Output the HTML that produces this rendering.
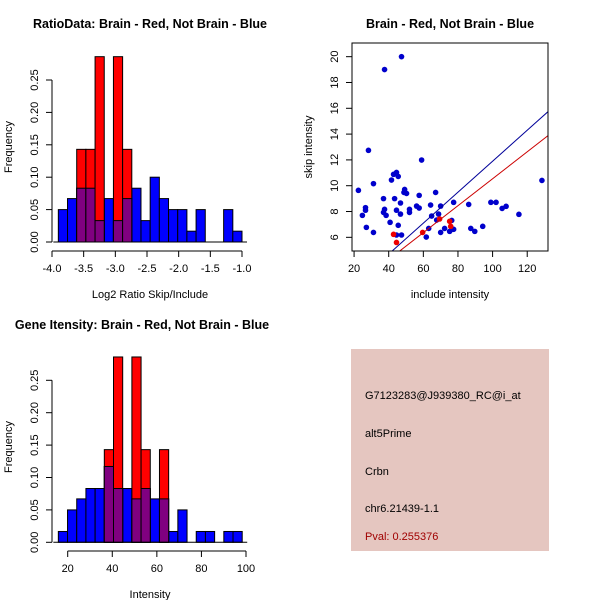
<!DOCTYPE html>
<html><head><meta charset="utf-8"><style>
html,body{margin:0;padding:0;background:#fff;}
svg{display:block;font-family:"Liberation Sans",sans-serif;}
</style></head><body>
<svg id="c" width="600" height="600" xmlns="http://www.w3.org/2000/svg">
<rect width="600" height="600" fill="#fff"/>
<text x="150" y="28" text-anchor="middle" font-size="12.5" font-weight="bold">RatioData: Brain - Red, Not Brain - Blue</text>
<text x="450" y="28" text-anchor="middle" font-size="12.5" font-weight="bold">Brain - Red, Not Brain - Blue</text>
<text x="142" y="329" text-anchor="middle" font-size="12.5" font-weight="bold">Gene Itensity: Brain - Red, Not Brain - Blue</text>
<text x="150" y="298" text-anchor="middle" font-size="11">Log2 Ratio Skip/Include</text>
<text x="12" y="147" text-anchor="middle" font-size="11" transform="rotate(-90 12 147)">Frequency</text>
<text x="150" y="598" text-anchor="middle" font-size="11">Intensity</text>
<text x="12" y="447" text-anchor="middle" font-size="11" transform="rotate(-90 12 447)">Frequency</text>
<text x="450" y="298" text-anchor="middle" font-size="11">include intensity</text>
<text x="312" y="147" text-anchor="middle" font-size="11" transform="rotate(-90 312 147)">skip intensity</text>
<g>
<rect x="351" y="349" width="198" height="202" fill="#E5C6C0"/>
<text x="365" y="399" font-size="11">G7123283@J939380_RC@i_at</text>
<text x="365" y="437" font-size="11">alt5Prime</text>
<text x="365" y="475" font-size="11">Crbn</text>
<text x="365" y="512" font-size="11">chr6.21439-1.1</text>
<text x="365" y="540" font-size="11" fill="#A00000">Pval: 0.255376</text>
</g>
</svg>
<script>
// Ratio histogram data
const ratioStart = -3.9, ratioWidth = 0.145;
const ratioBlue = [0.05,0.067,0.083,0.083,0.033,0.067,0.033,0.067,0.083,0.033,0.1,0.067,0.05,0.05,0.0167,0.05,0,0,0.05,0.0167];
const ratioRed  = [0,0,0.143,0.143,0.286,0,0.286,0.143,0,0,0,0,0,0,0,0,0,0,0,0];
const ratioXTicks = [-4.0,-3.5,-3.0,-2.5,-2.0,-1.5,-1.0];
const freqTicks = [0,0.05,0.10,0.15,0.20,0.25];
const freqTickLabels = ["0.00","0.05","0.10","0.15","0.20","0.25"];
// Intensity histogram data
const intStart = 15.8, intWidth = 4.125;
const intBlue = [0.0167,0.05,0.067,0.083,0.083,0.117,0.083,0.083,0.067,0.083,0.067,0.067,0.0167,0.05,0,0.0167,0.0167,0,0.0167,0.0167];
const intRed  = [0,0,0,0,0,0.143,0.286,0,0.286,0.143,0,0.143,0,0,0,0,0,0,0,0];
const intXTicks = [20,40,60,80,100];
// Scatter data
const blueX = [22.5,24.8,26.6,26.6,27.1,28.3,31.2,31.2,37.0,37.0,37.6,37.6,38.5,40.8,41.6,42.8,43.4,44.5,44.5,44.5,45.5,45.5,46.8,46.8,47.4,47.4,48.8,49.2,50.3,52.0,52.0,56.1,57.6,57.6,59.0,61.7,63.1,64.2,64.8,67.1,67.7,68.8,70.0,70.0,72.3,75.2,76.4,76.4,77.5,77.5,86.2,87.4,89.7,94.3,99.0,102.0,105.5,107.8,115.2,128.5];
const blueY = [9.64,7.7,8.3,8.1,6.77,12.74,10.16,6.38,9.0,7.93,19.0,8.17,7.7,7.16,10.44,10.88,9.0,11.03,8.1,6.18,10.72,6.93,8.66,7.8,20.0,6.18,9.48,9.71,9.4,8.17,7.93,8.42,9.25,8.27,11.99,6.02,6.69,8.5,7.65,9.48,7.34,7.8,6.38,8.42,6.69,6.46,7.31,6.62,8.71,6.62,8.55,6.69,6.46,6.85,8.71,8.71,8.24,8.4,7.78,10.41];
const redX = [42.8,44.5,59.6,69.4,75.2,75.8];
const redY = [6.23,5.6,6.38,7.42,7.24,6.85];
const blueFit = [0.12,-0.1];   // slope, intercept
const redFit = [0.1044,0.1];
const scatterXTicks = [20,40,60,80,100,120];
const scatterYTicks = [6,8,10,12,14,16,18,20];

const svg = document.getElementById('c');
const NS = 'http://www.w3.org/2000/svg';
function mk(tag, attrs, parent){const e=document.createElementNS(NS,tag);for(const k in attrs)e.setAttribute(k,attrs[k]);(parent||svg).appendChild(e);return e;}

function histogram(name, start, width, blue, red, y0px, xAxisY, xTicks, xTickLab, xmin, xmax, pxLeft, pxRight){
  const g = mk('g',{});
  
  
  const sx = v => pxLeft + (v - xmin) / (xmax - xmin) * (pxRight - pxLeft);
  const sy = f => y0px - f / 0.05 * 32.4;
  for (let i=0;i<blue.length;i++){
    const x1=sx(start+i*width), x2=sx(start+(i+1)*width);
    if (blue[i]>0){
      const r=mk('rect',{x:x1,y:sy(blue[i]),width:x2-x1,height:y0px-sy(blue[i]),fill:'#0000FF',stroke:'#000','stroke-width':1},g);
      
      
    }
  }
  for (let i=0;i<red.length;i++){
    const x1=sx(start+i*width), x2=sx(start+(i+1)*width);
    if (red[i]>0){
      const r=mk('rect',{x:x1,y:sy(red[i]),width:x2-x1,height:y0px-sy(red[i]),fill:'#FF0000',stroke:'#000','stroke-width':1},g);
      
      
      const m=Math.min(red[i],blue[i]);
      if (m>0){
        const p=mk('rect',{x:x1,y:sy(m),width:x2-x1,height:y0px-sy(m),fill:'#800080',stroke:'#000','stroke-width':1},g);
        
        
      }
    }
  }
  mk('line',{x1:sx(start)-5,x2:sx(start+blue.length*width)+5,y1:y0px,y2:y0px,stroke:'#000'},g);
  // y axis
  mk('line',{x1:52,x2:52,y1:sy(0),y2:sy(0.25),stroke:'#000'},g);
  freqTicks.forEach((t,i)=>{
    mk('line',{x1:46,x2:52,y1:sy(t),y2:sy(t),stroke:'#000'},g);
    const tx=mk('text',{x:38,y:sy(t),'font-size':11,'text-anchor':'middle',transform:`rotate(-90 38 ${sy(t)})`},g);
    tx.textContent=freqTickLabels[i];
    
    
  });
  // x axis
  mk('line',{x1:sx(xTicks[0]),x2:sx(xTicks[xTicks.length-1]),y1:xAxisY,y2:xAxisY,stroke:'#000'},g);
  xTicks.forEach(t=>{
    mk('line',{x1:sx(t),x2:sx(t),y1:xAxisY,y2:xAxisY+6,stroke:'#000'},g);
    const tx=mk('text',{x:sx(t),y:xAxisY+21,'font-size':11,'text-anchor':'middle'},g);
    tx.textContent=xTickLab(t);
    
    
  });
}
histogram('ratio-histogram', ratioStart, ratioWidth, ratioBlue, ratioRed, 242, 251, ratioXTicks, t=>t.toFixed(1), -4, -1, 52, 242);
histogram('intensity-histogram', intStart, intWidth, intBlue, intRed, 542.3, 551, intXTicks, t=>String(t), 20, 100, 67.7, 246);

// Scatter
(function(){
  const L=352,R=548,T=43,B=251;
  const xmin=18.8,xmax=132,ymin=4.94,ymax=21.06;
  const sx=v=>L+(v-xmin)/(xmax-xmin)*(R-L);
  const sy=v=>B-(v-ymin)/(ymax-ymin)*(B-T);
  const g=mk('g',{});
  
  
  const cp=mk('clipPath',{id:'clipS'},g); mk('rect',{x:L,y:T,width:R-L,height:B-T},cp);
  for(let i=0;i<blueX.length;i++){
    const c=mk('circle',{cx:sx(blueX[i]),cy:sy(blueY[i]),r:2.8,fill:'#0000CC'},g);
    
    
  }
  for(let i=0;i<redX.length;i++){
    const c=mk('circle',{cx:sx(redX[i]),cy:sy(redY[i]),r:2.8,fill:'#EE0000'},g);
    
    
  }
  [[blueFit,'#000099','blue-fit-line'],[redFit,'#CC0000','red-fit-line']].forEach(([f,col,nm])=>{
    const l=mk('line',{x1:sx(xmin),y1:sy(f[0]*xmin+f[1]),x2:sx(xmax),y2:sy(f[0]*xmax+f[1]),stroke:col,'stroke-width':1,'clip-path':'url(#clipS)'},g);
    
    
  });
  mk('rect',{x:L,y:T,width:R-L,height:B-T,fill:'none',stroke:'#000'},g);
  scatterXTicks.forEach(t=>{
    mk('line',{x1:sx(t),x2:sx(t),y1:B,y2:B+6,stroke:'#000'},g);
    const tx=mk('text',{x:sx(t),y:B+21,'font-size':11,'text-anchor':'middle'},g);
    tx.textContent=t;
    
    
  });
  scatterYTicks.forEach(t=>{
    mk('line',{x1:L-6,x2:L,y1:sy(t),y2:sy(t),stroke:'#000'},g);
    const tx=mk('text',{x:338,y:sy(t),'font-size':11,'text-anchor':'middle',transform:`rotate(-90 338 ${sy(t)})`},g);
    tx.textContent=t;
    
    
  });
})();
</script>
</body></html>
